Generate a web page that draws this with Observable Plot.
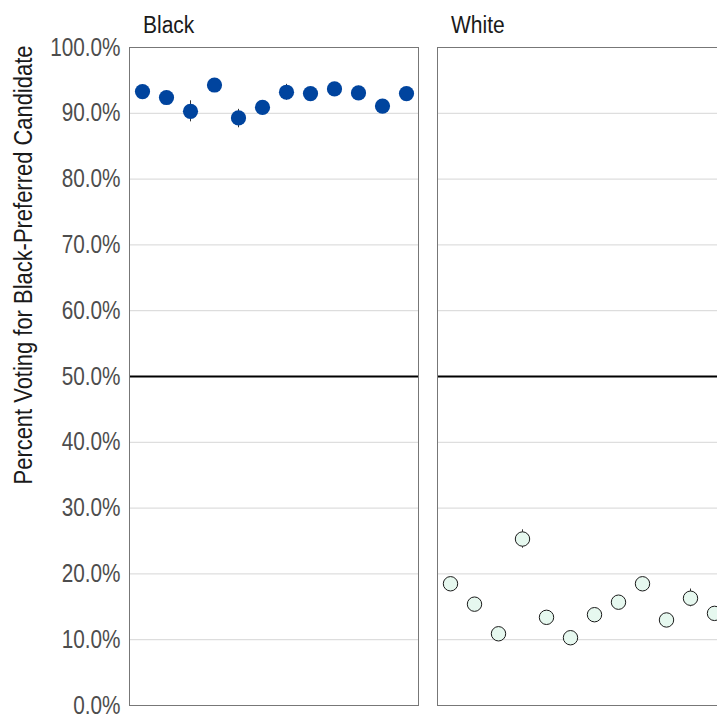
<!DOCTYPE html>
<html>
<head>
<meta charset="utf-8">
<script src="https://cdn.jsdelivr.net/npm/d3@7"></script>
<script src="https://cdn.jsdelivr.net/npm/@observablehq/plot@0.6"></script>
<style>
  html, body { margin: 0; padding: 0; background: #fff; overflow: hidden; }
  #wrap { position: relative; width: 717px; height: 717px; overflow: hidden; }
  #wrap svg { display: block; }
  #ytitle {
    position: absolute; left: 24px; top: 265px;
    transform: translate(-50%, -50%) rotate(-90deg) scaleX(0.86);
    white-space: nowrap; color: #1a1a1a;
    font-family: "Liberation Sans", Arial, sans-serif;
    font-size: 25.5px; line-height: 1;
  }
</style>
</head>
<body>
<div id="wrap">
  <div id="ytitle">Percent Voting for Black-Preferred Candidate</div>
</div>
<script>
// Voter groups (one panel each) and the twelve contests in each panel
const groups = ["Black", "White"];
const contests = ["C01", "C02", "C03", "C04", "C05", "C06", "C07", "C08", "C09", "C10", "C11", "C12"];

// Estimated share voting for the Black-preferred candidate (%), with interval bounds
const blackPct  = [93.3, 92.4, 90.3, 94.3, 89.3, 90.9, 93.2, 93.0, 93.7, 93.1, 91.1, 93.0];
const blackLow  = [92.5, 91.4, 88.7, 93.4, 87.8, 89.9, 92.0, 92.1, 92.8, 92.1, 90.1, 92.1];
const blackHigh = [94.1, 93.4, 91.9, 95.2, 90.6, 91.9, 94.4, 93.9, 94.6, 94.1, 92.1, 93.9];

const whitePct  = [18.5, 15.4, 10.9, 25.3, 13.4, 10.3, 13.8, 15.7, 18.5, 13.0, 16.3, 14.0];
const whiteLow  = [17.6, 14.5, 10.1, 23.9, 12.5,  9.5, 12.9, 14.8, 17.6, 12.1, 15.0, 13.1];
const whiteHigh = [19.4, 16.3, 11.7, 26.7, 14.3, 11.1, 14.7, 16.6, 19.4, 13.9, 17.7, 14.9];

// Axis ticks and the majority threshold
const yTicks = [0, 10, 20, 30, 40, 50, 60, 70, 80, 90, 100];
const majority = [50];

const rows = contests.flatMap((c, i) => [
  {group: "Black", contest: c, pct: blackPct[i], lo: blackLow[i], hi: blackHigh[i]},
  {group: "White", contest: c, pct: whitePct[i], lo: whiteLow[i], hi: whiteHigh[i]}
]);
const blackRows = rows.filter(d => d.group === "Black");
const whiteRows = rows.filter(d => d.group === "White");

const font = `"Liberation Sans", Arial, sans-serif`;

const chart = Plot.plot({
  width: 728,
  height: 717,
  marginLeft: 129,
  marginRight: 2,
  marginTop: 47,
  marginBottom: 12,
  style: {fontFamily: font, background: "#fff", overflow: "visible", maxWidth: "none"},
  fx: {domain: groups, paddingInner: 19 / 308, paddingOuter: 0},
  x: {type: "point", domain: contests, padding: 0.5, axis: null},
  y: {domain: [0, 100]},
  marks: [
    Plot.gridY(yTicks, {stroke: "#d6d6d6", strokeOpacity: 1, strokeWidth: 1}),
    Plot.ruleY(majority, {stroke: "#000", strokeWidth: 2.2}),
    Plot.ruleX(rows, {fx: "group", x: "contest", y1: "lo", y2: "hi", stroke: "#333", strokeWidth: 1}),
    Plot.dot(blackRows, {fx: "group", x: "contest", y: "pct", r: 7.6, fill: "#00449e", stroke: "none"}),
    Plot.dot(whiteRows, {fx: "group", x: "contest", y: "pct", r: 7.2, fill: "#e6f8ef", stroke: "#1a1a1a", strokeWidth: 1}),
    Plot.frame({stroke: "#777", strokeWidth: 1}),
    Plot.axisY({
      ticks: yTicks, tickFormat: d => d.toFixed(1) + "%",
      tickSize: 0, tickPadding: 9, fontSize: 25, color: "#4d4d4d", label: null
    }),
    Plot.axisFx({
      anchor: "top", tickSize: 0, tickPadding: 15, textAnchor: "start", dx: -131,
      fontSize: 24.7, color: "#1a1a1a", label: null
    })
  ]
});

// Condense label glyphs horizontally about each label's own anchor (horizontal only)
function condense(selector, sx) {
  chart.querySelectorAll(selector + " text").forEach(t => {
    const x = parseFloat(t.getAttribute("x")) || 0;
    const prior = t.getAttribute("transform") || "";
    t.setAttribute("transform", `${prior} translate(${x},0) scale(${sx},1) translate(${-x},0)`);
  });
}
condense('[aria-label="y-axis tick label"]', 0.83);
condense('[aria-label="fx-axis tick label"]', 0.85);

document.getElementById("wrap").appendChild(chart);
</script>
</body>
</html>
